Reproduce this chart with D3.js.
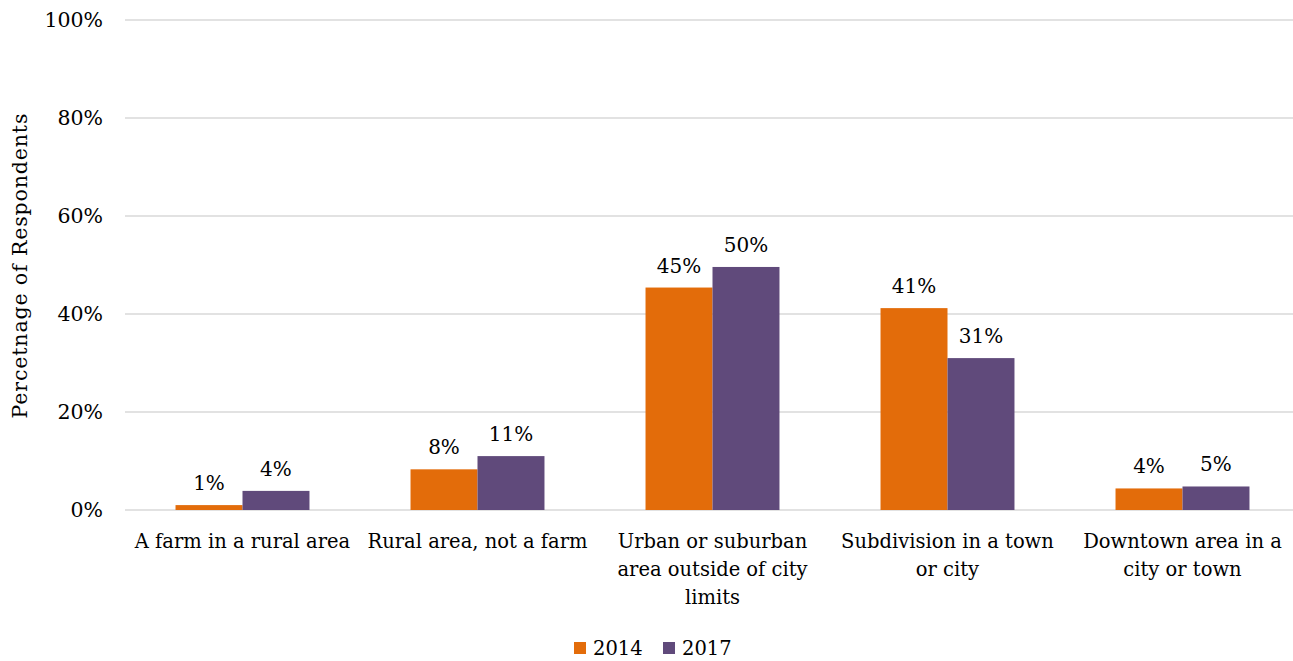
<!DOCTYPE html>
<html><head><meta charset="utf-8">
<script src="https://cdn.jsdelivr.net/npm/d3@7"></script>
<style>body{margin:0;background:#fff;}svg text{font-family:"DejaVu Serif",serif;fill:#000;}</style>
</head><body>
<svg id="c" width="1293" height="661"></svg>
<script>
const categories = [
  ["A farm in a rural area"],
  ["Rural area, not a farm"],
  ["Urban or suburban", "area outside of city", "limits"],
  ["Subdivision in a town", "or city"],
  ["Downtown area in a", "city or town"]
];
const seriesNames = ["2014", "2017"];
const values2014 = [1, 8.3, 45.4, 41.2, 4.4];
const values2017 = [3.9, 11, 49.6, 31, 4.8];
const labels2014 = ["1%", "8%", "45%", "41%", "4%"];
const labels2017 = ["4%", "11%", "50%", "31%", "5%"];
const yTicks = [0, 20, 40, 60, 80, 100];
const colors = ["#E36C0A", "#604A7B"];

const svg = d3.select("#c");
const pL = 125, pR = 1300, pT = 20, pB = 510;
const FS = 19.5;
const x = d3.scaleBand().domain(d3.range(categories.length)).range([pL, pR]).paddingInner(0.43).paddingOuter(0.215);
const xs = d3.scaleBand().domain([0,1]).range([0, x.bandwidth()]);
const y = d3.scaleLinear().domain([0, 100]).range([pB, pT]);

// gridlines
svg.append("g").selectAll("line").data(yTicks).join("line")
  .attr("x1", pL).attr("x2", 1293).attr("y1", d => y(d)).attr("y2", d => y(d))
  .attr("stroke", "#d9d9d9").attr("stroke-width", 1.3);

// y labels
svg.append("g").selectAll("text").data(yTicks).join("text")
  .attr("x", 103).attr("y", d => y(d)).attr("dy", "0.35em").attr("text-anchor", "end")
  .attr("font-size", 20.5).text(d => d + "%");

// axis title
svg.append("text").attr("transform", "translate(27,266) rotate(-90)").attr("text-anchor", "middle")
  .attr("font-size", 20.5).attr("textLength", 305).attr("lengthAdjust", "spacing")
  .text("Percetnage of Respondents");

const series = [values2014, values2017];
const lbls = [labels2014, labels2017];
series.forEach((vals, s) => {
  const g = svg.append("g");
  g.selectAll("rect").data(vals).join("rect")
    .attr("x", (d, i) => x(i) + xs(s)).attr("width", xs.bandwidth())
    .attr("y", d => y(d)).attr("height", d => y(0) - y(d)).attr("fill", colors[s]);
  g.selectAll("text").data(vals).join("text")
    .attr("x", (d, i) => x(i) + xs(s) + xs.bandwidth() / 2).attr("y", d => y(d) - 15)
    .attr("text-anchor", "middle").attr("font-size", 20).text((d, i) => lbls[s][i]);
});

// category labels
const cg = svg.append("g");
categories.forEach((lines, i) => {
  const t = cg.append("text").attr("x", x(i) + x.bandwidth() / 2).attr("y", 548).attr("text-anchor", "middle").attr("font-size", FS);
  lines.forEach((l, j) => t.append("tspan").attr("x", x(i) + x.bandwidth() / 2).attr("dy", j ? 28 : 0).text(l));
});

// legend
const legX = [574, 663];
seriesNames.forEach((n, s) => {
  svg.append("rect").attr("x", legX[s]).attr("y", 642).attr("width", 12).attr("height", 12).attr("fill", colors[s]);
  svg.append("text").attr("x", legX[s] + 19).attr("y", 655).attr("font-size", FS).text(n);
});
</script>
</body></html>
